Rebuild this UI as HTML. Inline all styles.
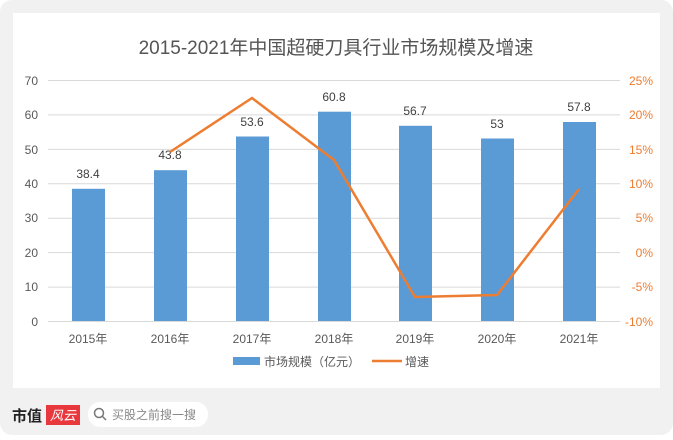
<!DOCTYPE html><html><head><meta charset="utf-8"><style>
body{margin:0;width:673px;height:435px;background:#fff;overflow:hidden;font-family:"Liberation Sans","Noto Sans CJK SC",sans-serif}
</style></head><body>
<svg width="673" height="435" xmlns="http://www.w3.org/2000/svg" font-family="Liberation Sans, Noto Sans CJK SC, sans-serif">
<rect x="0" y="0" width="673" height="435" rx="12" fill="#f1f1f1"/>
<rect x="13" y="13" width="647" height="375" fill="#fff"/>
<text x="336" y="54" font-size="19" fill="#555" text-anchor="middle">2015-2021年中国超硬刀具行业市场规模及增速</text>
<g stroke="#d9d9d9" stroke-width="1">
<line x1="48" x2="620" y1="80.5" y2="80.5"/><line x1="48" x2="620" y1="114.9" y2="114.9"/><line x1="48" x2="620" y1="149.4" y2="149.4"/><line x1="48" x2="620" y1="183.8" y2="183.8"/><line x1="48" x2="620" y1="218.2" y2="218.2"/><line x1="48" x2="620" y1="252.6" y2="252.6"/><line x1="48" x2="620" y1="287.1" y2="287.1"/><line x1="48" x2="620" y1="321.5" y2="321.5"/>
</g>
<g font-size="12" fill="#595959" text-anchor="end">
<text x="38" y="85">70</text><text x="38" y="119">60</text><text x="38" y="154">50</text><text x="38" y="188">40</text><text x="38" y="222">30</text><text x="38" y="257">20</text><text x="38" y="291">10</text><text x="38" y="326">0</text>
</g>
<g font-size="12" fill="#ed7d31" text-anchor="end">
<text x="653" y="85">25%</text><text x="653" y="119">20%</text><text x="653" y="154">15%</text><text x="653" y="188">10%</text><text x="653" y="222">5%</text><text x="653" y="257">0%</text><text x="653" y="291">-5%</text><text x="653" y="326">-10%</text>
</g>
<g fill="#5b9bd5">
<rect x="72" y="188.8" width="33" height="132.2"/>
<rect x="154" y="170.2" width="33" height="150.8"/>
<rect x="236" y="136.5" width="33" height="184.5"/>
<rect x="318" y="111.7" width="33" height="209.3"/>
<rect x="399" y="125.8" width="33" height="195.2"/>
<rect x="481" y="138.5" width="33" height="182.5"/>
<rect x="563" y="122" width="33" height="199"/>
</g>
<g font-size="12" fill="#404040" text-anchor="middle">
<text x="88" y="178">38.4</text><text x="170" y="159">43.8</text><text x="252" y="126">53.6</text><text x="334" y="101">60.8</text><text x="415" y="115">56.7</text><text x="497" y="128">53</text><text x="579" y="111">57.8</text>
</g>
<polyline points="170,152 252,98 334,160 415,297 497,295 579,189" fill="none" stroke="#ed7d31" stroke-width="2.5"/>
<g font-size="12" fill="#595959" text-anchor="middle">
<text x="88" y="343">2015年</text><text x="170" y="343">2016年</text><text x="252" y="343">2017年</text><text x="334" y="343">2018年</text><text x="415" y="343">2019年</text><text x="497" y="343">2020年</text><text x="579" y="343">2021年</text>
</g>
<rect x="233" y="357" width="27" height="8" fill="#5b9bd5"/>
<text x="264" y="366" font-size="12" fill="#595959">市场规模（亿元）</text>
<line x1="372" x2="402" y1="361" y2="361" stroke="#ed7d31" stroke-width="2.5"/>
<text x="405" y="366" font-size="12" fill="#595959">增速</text>
<text x="12" y="421" font-size="15" font-weight="bold" fill="#222">市值</text>
<rect x="46" y="405" width="34" height="20" fill="#e8383d"/>
<text x="50" y="420" font-size="13" font-style="italic" fill="#fff">风云</text>
<rect x="88" y="402" width="120" height="25" rx="12" fill="#fff"/>
<circle cx="99" cy="413" r="4.5" fill="none" stroke="#777" stroke-width="1.5"/>
<line x1="102" y1="416" x2="106" y2="420" stroke="#777" stroke-width="1.5"/>
<text x="112" y="419" font-size="12" fill="#888">买股之前搜一搜</text>
</svg>
</body></html>
